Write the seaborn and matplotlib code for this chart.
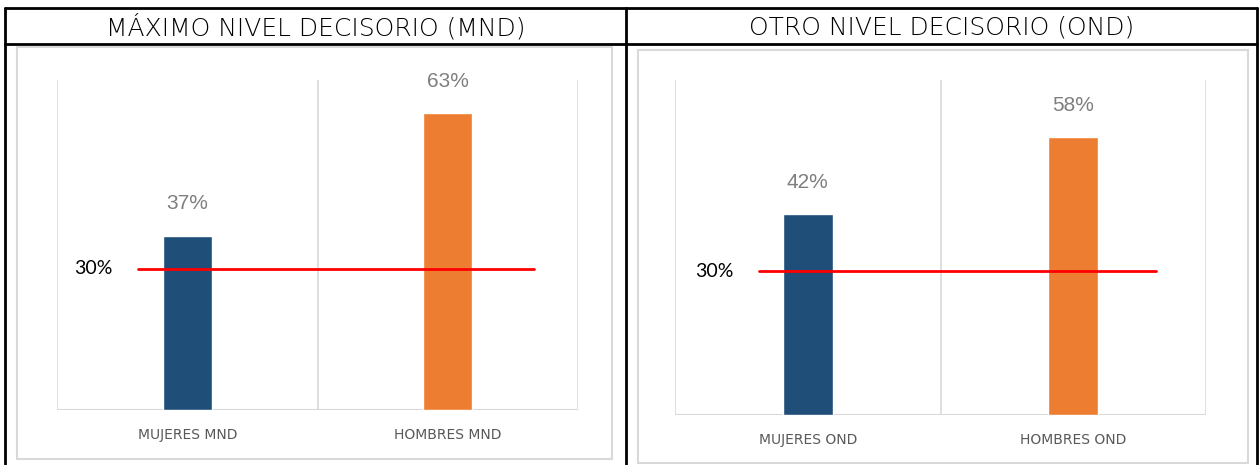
import matplotlib
matplotlib.use("Agg")
import matplotlib.pyplot as plt
from matplotlib.lines import Line2D
from matplotlib.patches import Rectangle
import seaborn as sns
import pandas as pd

# chart values
titles = ["MÁXIMO NIVEL DECISORIO (MND)", "OTRO NIVEL DECISORIO (OND)"]
cats_mnd = ["MUJERES MND", "HOMBRES MND"]
vals_mnd = [37, 63]
cats_ond = ["MUJERES OND", "HOMBRES OND"]
vals_ond = [42, 58]
umbral = 30
umbral_label = "30%"

colors = ["#1F4E79", "#ED7D31"]
grid_gray = "#d9d9d9"

sns.set_theme(style="white")
plt.rcParams["font.family"] = ["DejaVu Sans"]

W, H = 1259, 465
fig = plt.figure(figsize=(W / 100, H / 100), dpi=100)


def fx(px):
    return px / W


def fy(py):
    return 1 - py / H


def draw_panel(ax, cats, vals, line_span):
    df = pd.DataFrame({"cat": cats, "val": vals})
    sns.barplot(data=df, x="cat", y="val", hue="cat", palette=colors,
                legend=False, width=0.19, saturation=1, ax=ax)
    ax.set_ylim(0, 70)
    ax.set_xlim(-0.5, 1.5)
    for s in ax.spines.values():
        s.set_visible(False)
    # excel-like category gridlines + baseline
    for xv in [-0.5, 0.5, 1.5]:
        ax.axvline(xv, color=grid_gray, lw=1.2, zorder=0)
    ax.axhline(0, color=grid_gray, lw=1.5, zorder=0)
    ax.set_yticks([])
    ax.set_xlabel("")
    ax.set_ylabel("")
    ax.tick_params(axis="x", length=0, pad=13, labelsize=10, labelcolor="#595959")
    for i, v in enumerate(vals):
        ax.annotate(f"{v}%", (i, v), xytext=(0, 23), textcoords="offset points",
                    ha="center", va="center", fontsize=15, color="#7f7f7f",
                    family="Liberation Sans")
    # 30% reference line
    ax.plot(line_span, [umbral, umbral], color="#ff0000", lw=2, zorder=5)
    ax.annotate(umbral_label, (line_span[0], umbral), xytext=(-18, 0),
                textcoords="offset points", ha="right", va="center",
                fontsize=14, color="black", family="Lato")


ax1 = fig.add_axes([fx(57), fy(410), fx(578 - 57), (410 - 80) / H])
draw_panel(ax1, cats_mnd, vals_mnd, [-0.19, 1.33])

ax2 = fig.add_axes([fx(675), fy(415), fx(1206 - 675), (415 - 80) / H])
draw_panel(ax2, cats_ond, vals_ond, [-0.185, 1.31])

# gray chart frames
fig.patches.append(Rectangle((fx(17), fy(459)), fx(612 - 17), (459 - 47) / H,
                             transform=fig.transFigure, fill=False,
                             edgecolor=grid_gray, lw=1.5, zorder=0))
fig.patches.append(Rectangle((fx(638), fy(463)), fx(1248 - 638), (463 - 50) / H,
                             transform=fig.transFigure, fill=False,
                             edgecolor=grid_gray, lw=1.5, zorder=0))

# black table borders
tbl = dict(color="black", lw=2, transform=fig.transFigure)
fig.lines.append(Line2D([fx(5), fx(1257)], [fy(8), fy(8)], **tbl))
fig.lines.append(Line2D([fx(5), fx(1257)], [fy(44), fy(44)], **tbl))
fig.lines.append(Line2D([fx(5), fx(5)], [fy(8), 0], **tbl))
fig.lines.append(Line2D([fx(626), fx(626)], [fy(8), 0], **tbl))
fig.lines.append(Line2D([fx(1257), fx(1257)], [fy(8), 0], **tbl))

# titles
fig.text(fx(316), fy(27), titles[0], ha="center", va="center",
         fontsize=18, fontweight="light", color="black")
fig.text(fx(942), fy(27), titles[1], ha="center", va="center",
         fontsize=18, fontweight="light", color="black")

fig.savefig("out.png", dpi=100)
